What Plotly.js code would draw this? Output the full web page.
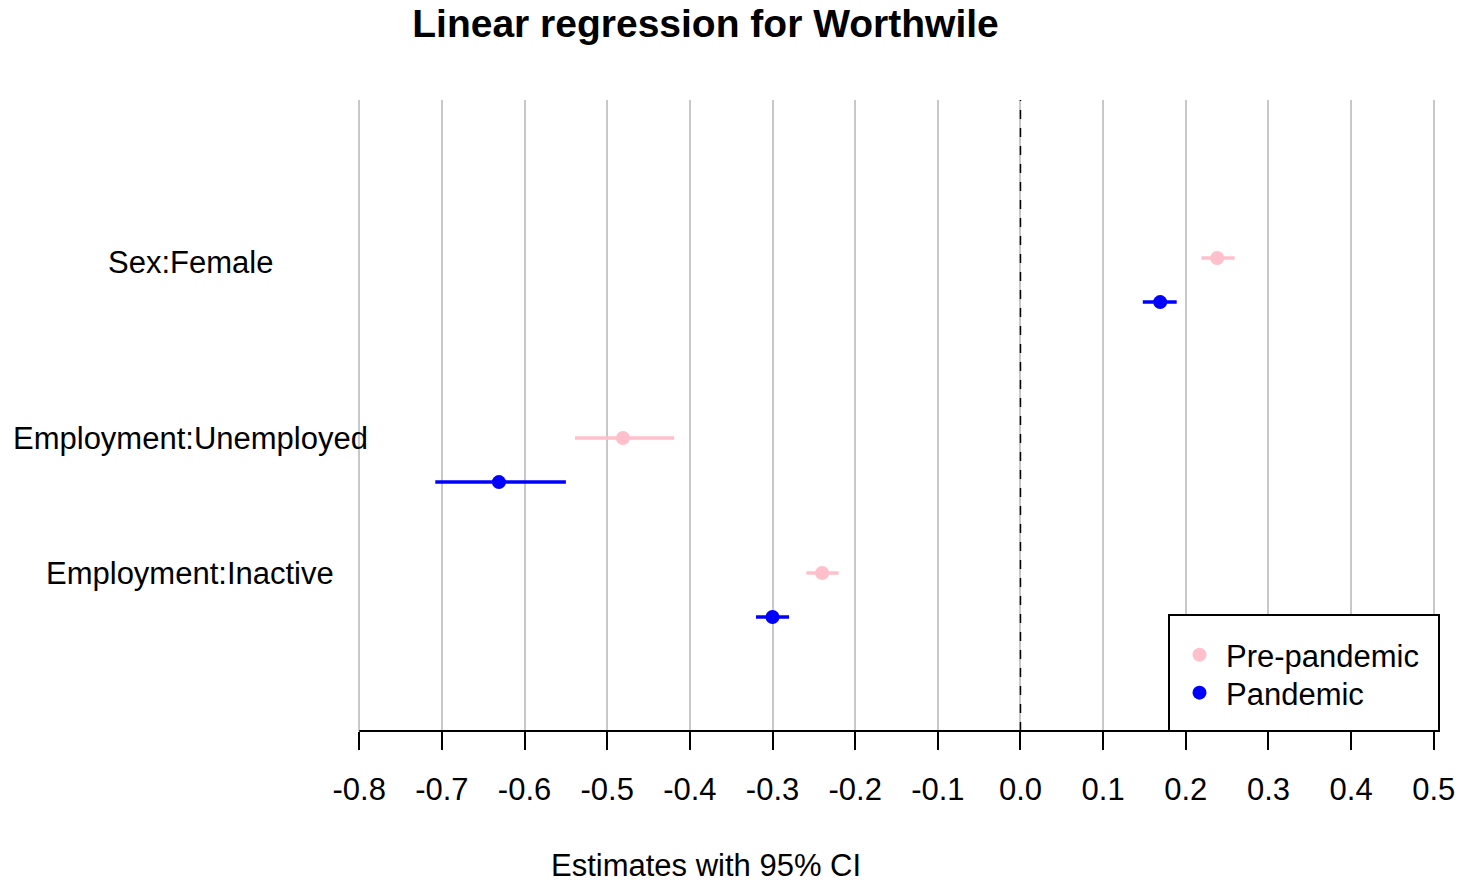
<!DOCTYPE html>
<html>
<head>
<meta charset="utf-8">
<script src="https://cdn.plot.ly/plotly-3.0.1.min.js"></script>
<style>html,body{margin:0;padding:0;background:#fff;}#chart{width:1466px;height:883px;}</style>
</head>
<body>
<div id="chart"></div>
<script>
// ---- data ----
const categories = ["Sex:Female", "Employment:Unemployed", "Employment:Inactive"];
const preEstimate = [0.238, -0.481, -0.240];
const preLower    = [0.219, -0.539, -0.259];
const preUpper    = [0.259, -0.419, -0.220];
const panEstimate = [0.169, -0.631, -0.300];
const panLower    = [0.148, -0.708, -0.320];
const panUpper    = [0.189, -0.550, -0.280];
const tickValues  = [-0.8, -0.7, -0.6, -0.5, -0.4, -0.3, -0.2, -0.1, 0.0, 0.1, 0.2, 0.3, 0.4, 0.5];
const tickLabels  = ["-0.8", "-0.7", "-0.6", "-0.5", "-0.4", "-0.3", "-0.2", "-0.1", "0.0", "0.1", "0.2", "0.3", "0.4", "0.5"];

// ---- layout helpers (not data) ----
const rowY = [4, 2, 0.5];
const labelShift = [-4, 0, -1];
const groupOffset = 0.49;
const FONT = "Liberation Sans, Arial, sans-serif";
const PW = 1077, PH = 631, PL = 358, PT = 100;   // plot area in px
const px2x = px => (px - PL) / PW;
const px2y = py => (PT + PH - py) / PH;

function ci(est, lo, hi) {
  return {
    type: "data", symmetric: false,
    array: est.map((e, i) => hi[i] - e),
    arrayminus: est.map((e, i) => e - lo[i]),
    width: 0, thickness: 3.5
  };
}

const traces = [
  {
    type: "scatter", mode: "markers", name: "Pre-pandemic", legend: "legend",
    x: preEstimate, y: rowY,
    marker: { color: "#FFC0CB", size: 14 },
    error_x: Object.assign(ci(preEstimate, preLower, preUpper), { color: "#FFC0CB" }),
    cliponaxis: false
  },
  {
    type: "scatter", mode: "markers", name: "Pandemic", legend: "legend2",
    x: panEstimate, y: rowY.map(v => v - groupOffset),
    marker: { color: "#0000FF", size: 14 },
    error_x: Object.assign(ci(panEstimate, panLower, panUpper), { color: "#0000FF" }),
    cliponaxis: false
  }
];

const annotations = categories.map((c, i) => ({
  text: c, x: px2x(190), y: rowY[i], xref: "paper", yref: "y", yshift: labelShift[i],
  xanchor: "center", yanchor: "middle", showarrow: false,
  font: { family: FONT, size: 31, color: "#000" }
}));
annotations.push({
  text: "Estimates with 95% CI", xref: "paper", yref: "paper",
  x: px2x(706), y: px2y(865),
  xanchor: "center", yanchor: "middle", showarrow: false,
  font: { family: FONT, size: 31, color: "#000" }
});

function legendAt(py) {
  return {
    x: px2x(1173), y: px2y(py), xanchor: "left", yanchor: "middle",
    xref: "paper", yref: "paper",
    borderwidth: 0, bgcolor: "rgba(0,0,0,0)",
    font: { family: FONT, size: 31, color: "#000" },
    itemwidth: 43, tracegroupgap: 0
  };
}

const layout = {
  width: 1466, height: 883,
  margin: { l: PL, r: 1466 - PL - PW, t: PT, b: 883 - PT - PH },
  paper_bgcolor: "#fff", plot_bgcolor: "#fff",
  font: { family: FONT, color: "#000" },
  title: {
    text: "<b>Linear regression for Worthwile</b>",
    x: 705.5 / 1466, xref: "container", xanchor: "center",
    y: 1 - 23 / 883, yref: "container", yanchor: "middle",
    font: { family: FONT, size: 39, color: "#000" }
  },
  showlegend: true,
  legend: legendAt(655),
  legend2: legendAt(693),
  xaxis: {
    range: [-0.8015, 0.5015], tickmode: "array", tickvals: tickValues, ticktext: tickLabels,
    showgrid: true, gridcolor: "#c8c8c8", gridwidth: 2,
    zeroline: false, showline: false,
    ticks: "outside", ticklen: 18, tickwidth: 2, tickcolor: "#000",
    ticklabelstandoff: 13,
    tickfont: { family: FONT, size: 31, color: "#000" },
    fixedrange: true
  },
  yaxis: {
    range: [-1.256, 5.756], showgrid: false, zeroline: false, showline: false,
    showticklabels: false, ticks: "", fixedrange: true
  },
  shapes: [
    { type: "line", xref: "x", yref: "paper", x0: 0, x1: 0, y0: 0, y1: 1,
      line: { color: "#000", width: 1.5, dash: "dash" }, layer: "above" },
    // axis line spanning first to last tick
    { type: "line", xref: "x", yref: "paper", x0: tickValues[0], x1: tickValues[tickValues.length - 1], y0: 0, y1: 0,
      line: { color: "#000", width: 2 }, layer: "above" },
    // legend box
    { type: "rect", xref: "paper", yref: "paper", x0: px2x(1169), x1: px2x(1439), y0: px2y(731), y1: px2y(615),
      line: { color: "#000", width: 2 }, fillcolor: "#fff", layer: "above" }
  ],
  annotations: annotations
};

Plotly.newPlot("chart", traces, layout, { staticPlot: true, displayModeBar: false });
</script>
</body>
</html>
